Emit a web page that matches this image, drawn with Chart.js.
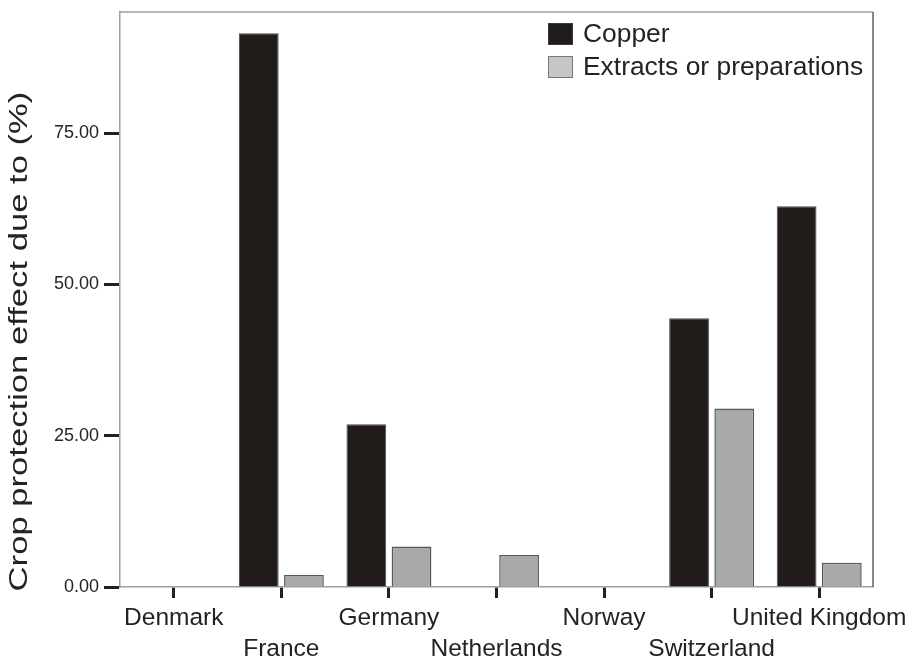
<!DOCTYPE html>
<html>
<head>
<meta charset="utf-8">
<script src="https://cdn.jsdelivr.net/npm/chart.js@4.4.1/dist/chart.umd.min.js"></script>
<style>
  html, body { margin: 0; padding: 0; background: #ffffff; }
  #wrap { width: 917px; height: 663px; }
</style>
</head>
<body>
<div id="wrap"><canvas id="chart" width="917" height="663"></canvas></div>
<script>
// Crop protection effect by country, split by product type (%)
const countries = ['Denmark', 'France', 'Germany', 'Netherlands', 'Norway', 'Switzerland', 'United Kingdom'];
const copper   = [0, 91.5, 26.9, 0, 0, 44.4, 62.9];
const extracts = [0, 2.0, 6.7, 5.3, 0, 29.5, 4.0];
const seriesNames = ['Copper', 'Extracts or preparations'];
const yTicks = [0, 25, 50, 75];
const yTitle = 'Crop protection effect due to (%)';

const FONT = '"Liberation Sans", Arial, Helvetica, sans-serif';
const TEXT = '#232323';
const AXIS_GRAY = '#95a2a8';

// alternate labels onto a second row so the long names do not collide
const staggered = countries.map((c, i) => (i % 2 ? ['', c] : [c]));

// rotated y-axis title, drawn a little wide
const yTitlePlugin = {
  id: 'yTitle',
  afterDraw(chart) {
    const ctx = chart.ctx;
    ctx.save();
    ctx.translate(20.5, 341.5);
    ctx.rotate(-Math.PI / 2);
    ctx.scale(1.385, 1);
    ctx.font = '25px ' + FONT;
    ctx.fillStyle = TEXT;
    ctx.textAlign = 'center';
    ctx.textBaseline = 'middle';
    ctx.fillText(yTitle, 0, 0);
    ctx.restore();
  }
};

// top and right edges of the plot frame
const framePlugin = {
  id: 'frame',
  beforeDatasetsDraw(chart) {
    const { ctx, chartArea: a } = chart;
    ctx.save();
    ctx.lineWidth = 1.5;
    ctx.strokeStyle = AXIS_GRAY;
    ctx.beginPath();
    ctx.moveTo(a.left, a.top);
    ctx.lineTo(a.right, a.top);
    ctx.stroke();
    ctx.strokeStyle = '#56646a';
    ctx.beginPath();
    ctx.moveTo(a.right, a.top);
    ctx.lineTo(a.right, a.bottom);
    ctx.stroke();
    ctx.restore();
  }
};

// legend placed inside the plot, top right
const innerLegend = {
  id: 'innerLegend',
  afterDatasetsDraw(chart) {
    const { ctx, chartArea: a } = chart;
    const left = a.right - 325;
    const top = a.top + 11;
    const rowH = 33;
    const boxW = 25, boxH = 22;
    ctx.save();
    ctx.font = '26.4px ' + FONT;
    ctx.textAlign = 'left';
    ctx.textBaseline = 'middle';
    chart.data.datasets.forEach((ds, i) => {
      const y = top + i * rowH;
      ctx.fillStyle = ds.legendFill;
      ctx.fillRect(left, y, boxW, boxH);
      ctx.lineWidth = 1;
      ctx.strokeStyle = ds.legendBorder;
      ctx.strokeRect(left + 0.5, y + 0.5, boxW - 1, boxH - 1);
      ctx.fillStyle = TEXT;
      ctx.fillText(ds.label, left + 35, y + boxH / 2 + 1);
    });
    ctx.restore();
  }
};

new Chart(document.getElementById('chart'), {
  type: 'bar',
  data: {
    labels: staggered,
    datasets: [
      {
        label: seriesNames[0],
        data: copper,
        backgroundColor: '#211c19',
        borderColor: '#4a4a4a',
        borderWidth: ctx => (ctx.raw > 0 ? 1 : 0),
        legendFill: '#211c19',
        legendBorder: '#3a3a3a'
      },
      {
        label: seriesNames[1],
        data: extracts,
        backgroundColor: '#a9a9a9',
        borderColor: '#4d5a60',
        borderWidth: ctx => (ctx.raw > 0 ? 1.5 : 0),
        legendFill: '#c6c6c4',
        legendBorder: '#727a7e'
      }
    ]
  },
  options: {
    responsive: false,
    animation: false,
    devicePixelRatio: 1,
    categoryPercentage: 0.84,
    barPercentage: 0.88,
    layout: { padding: { left: 0, right: 44, top: 12, bottom: 0 } },
    plugins: {
      legend: { display: false },
      tooltip: { enabled: false },
      title: { display: false }
    },
    scales: {
      x: {
        offset: true,
        afterFit(scale) {
          scale.height = 76;
          scale.paddingLeft = 0;
          scale.paddingRight = 0;
        },
        grid: {
          offset: false,
          drawOnChartArea: false,
          drawTicks: true,
          tickLength: 11,
          tickWidth: 3,
          tickColor: '#1e2124'
        },
        border: { display: true, color: AXIS_GRAY, width: 1.5 },
        ticks: {
          autoSkip: false,
          maxRotation: 0,
          minRotation: 0,
          padding: 5,
          color: TEXT,
          font: { family: FONT, size: 24.5, lineHeight: 1.27 }
        }
      },
      y: {
        min: 0,
        max: 95,
        afterFit(scale) {
          scale.width = 120;
          scale.paddingTop = 0;
          scale.paddingBottom = 0;
        },
        afterBuildTicks(scale) { scale.ticks = yTicks.map(v => ({ value: v })); },
        grid: {
          drawOnChartArea: false,
          drawTicks: true,
          tickLength: 16,
          tickWidth: 3,
          tickColor: '#1e2124'
        },
        border: { display: true, color: AXIS_GRAY, width: 1.5 },
        ticks: {
          padding: 5,
          color: TEXT,
          font: { family: FONT, size: 18 },
          callback: v => Number(v).toFixed(2)
        }
      }
    }
  },
  plugins: [framePlugin, innerLegend, yTitlePlugin]
});
</script>
</body>
</html>
